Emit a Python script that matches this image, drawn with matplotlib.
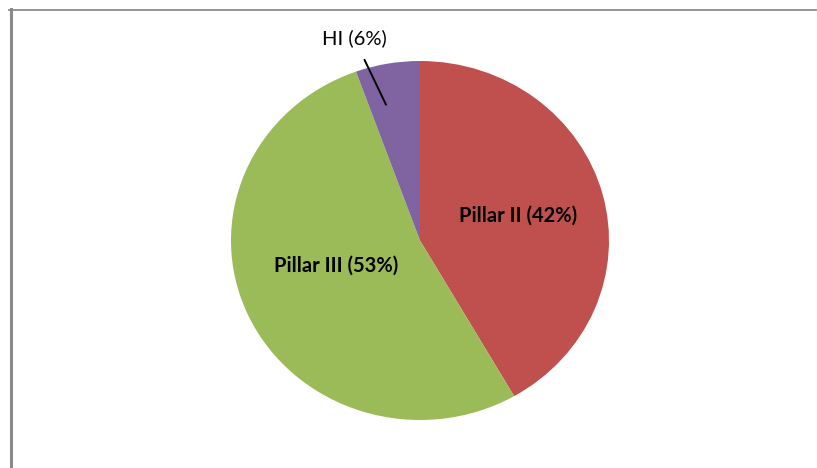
import matplotlib
matplotlib.use("Agg")
import matplotlib.pyplot as plt
from matplotlib.lines import Line2D

labels = ["Pillar II (42%)", "Pillar III (53%)", "HI (6%)"]
shares = [41.7, 52.8, 5.5]
colors = ["#C0504D", "#9BBB59", "#8064A2"]

W, H = 817, 468
fig = plt.figure(figsize=(W / 100, H / 100), dpi=100)
fig.patch.set_facecolor("white")

# pie axes: ellipse rx=189px, ry=179.5px centered at (420, 240.5) from top-left
cx, cy, rx, ry = 420, 240.5, 189, 179.5
ax = fig.add_axes([(cx - rx) / W, (H - cy - ry) / H, 2 * rx / W, 2 * ry / H])
wedges, _ = ax.pie(shares, colors=colors, startangle=90, counterclock=False,
                   radius=1.0, wedgeprops=dict(linewidth=0))
ax.set_aspect("auto")
ax.set_xlim(-1, 1)
ax.set_ylim(-1, 1)
ax.axis("off")

fam = ["Lato", "DejaVu Sans"]

# label anchor positions (axes data units of the unit pie)
label_pos = [(0.519, 0.139), (-0.444, -0.139), (-0.349, 1.128)]
leader_end = (-0.18, 0.757)

for lab, (lx, ly) in zip(labels[:2], label_pos[:2]):
    ax.text(lx, ly, lab, ha="center", va="center",
            fontsize=14.5, fontweight="bold", family=fam, color="black")

ax.annotate(labels[2], xy=leader_end, xytext=label_pos[2], textcoords="data",
            ha="center", va="center", fontsize=14.5, family=fam, color="black",
            annotation_clip=False,
            arrowprops=dict(arrowstyle="-", color="black", lw=1.4,
                            shrinkA=8, shrinkB=0))

# chart frame (left and top edges)
fig.add_artist(Line2D([10.5 / W, 10.5 / W], [0, 1 - 9 / H], color="#8a8a8a", lw=2.2))
fig.add_artist(Line2D([9 / W, 816 / W], [1 - 9.5 / H, 1 - 9.5 / H], color="#8a8a8a", lw=1.3))

fig.savefig("out.png", dpi=100, facecolor="white")
